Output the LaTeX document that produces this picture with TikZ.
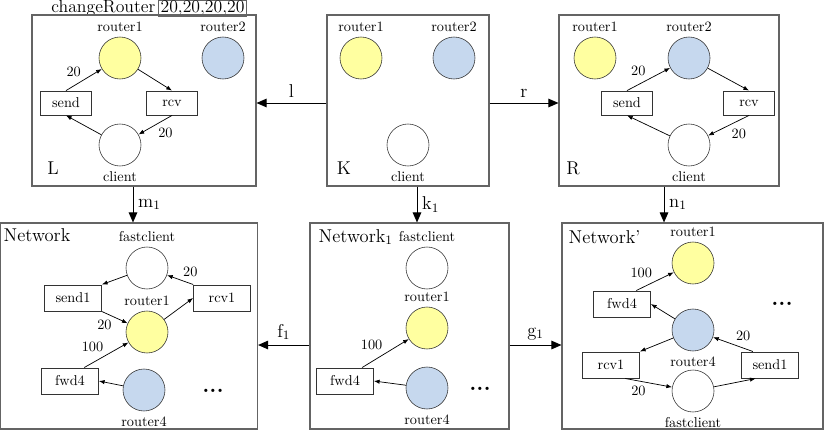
\documentclass[tikz,border=0pt]{standalone}
\definecolor{ryellow}{RGB}{255,255,160}
\definecolor{rblue}{RGB}{198,216,238}
\definecolor{panelgray}{RGB}{100,100,100}
\usepackage{tikz}
\usetikzlibrary{arrows.meta,positioning,calc}

\begin{document}
\begin{tikzpicture}[x=0.7pt,y=-0.7pt,
  panel/.style={draw=panelgray,line width=0.8pt,inner sep=0pt,minimum height=119.7pt},
  place/.style={circle,draw=black!80,minimum size=29.4pt,inner sep=0pt},
  yplace/.style={place,fill=ryellow},
  bplace/.style={place,fill=rblue},
  trans/.style={draw=black!80,minimum width=36pt,minimum height=17pt,inner sep=1pt},
  ntrans/.style={trans,minimum width=40pt,minimum height=18.5pt},
  arc/.style={-{Latex[length=4pt,width=3pt]},line width=0.5pt},
  morph/.style={-{Triangle[length=7pt,width=6pt]},line width=0.6pt},
  bigfont/.style={font=\fontsize{13}{15.6}\selectfont},
  tag/.style={bigfont,inner sep=1pt},
  more/.style={font=\fontsize{16}{19}\selectfont\bfseries,inner sep=0pt}]
\useasboundingbox (0,0) rectangle (827,436);

% rule name
\node[tag,font=\fontsize{12.4}{15}\selectfont,anchor=base east] (opname) at (157,12.8) {changeRouter};
\node[tag,font=\fontsize{12.4}{15}\selectfont,draw=panelgray,line width=0.6pt,anchor=base west,inner ysep=0.3pt,inner xsep=1.5pt] (oppar) at (158,12.8) {20,20,20,20};

% panels
\node[panel,minimum width=156.8pt] (L) at (144,100.5) {};
\node[panel,minimum width=113.4pt] (K) at (408,100.5) {};
\node[panel,minimum width=154pt] (R) at (669,100.5) {};
\node[panel,minimum width=179.9pt,minimum height=144.2pt] (N) at (129,326) {};
\node[panel,minimum width=139.3pt,minimum height=144.2pt] (N1) at (409.5,326) {};
\node[panel,minimum width=182.7pt,minimum height=144.2pt] (NP) at (692.5,326) {};
\node[tag] (Ltag) at (53,168) {L};
\node[tag] (Ktag) at (344,168) {K};
\node[tag] (Rtag) at (573,168) {R};
\node[tag,anchor=west] (Ntag) at (2,235) {Network};
\node[tag,anchor=west] (N1tag) at (317,237) {Network$_1$};
\node[tag,anchor=west] (NPtag) at (567,237) {Network'};

% L
\node[yplace,label=above:router1] (Lr1) at (120,58) {};
\node[bplace,label=above:router2] (Lr2) at (223,58) {};
\node[trans] (Lsend) at (66,103) {send};
\node[trans] (Lrcv) at (172,103) {rcv};
\node[place,label=below:client] (Lcl) at (120,145) {};
\draw[arc] (Lsend.north) -- node[above left=-2pt]{20} (Lr1);
\draw[arc] (Lr1) -- (Lrcv.north);
\draw[arc] (Lrcv.south) -- node[below right=-2pt]{20} (Lcl);
\draw[arc] (Lcl) -- (Lsend.south);

% K
\node[yplace,label=above:router1] (Kr1) at (361,58) {};
\node[bplace,label=above:router2] (Kr2) at (454,58) {};
\node[place,label=below:client] (Kcl) at (408,145) {};

% R
\node[yplace,label=above:router1] (Rr1) at (595,58) {};
\node[bplace,label=above:router2] (Rr2) at (689,58) {};
\node[trans] (Rsend) at (627,103) {send};
\node[trans] (Rrcv) at (749,103) {rcv};
\node[place,label=below:client] (Rcl) at (689,145) {};
\draw[arc] (Rsend.north) -- node[above left=-2pt]{20} (Rr2);
\draw[arc] (Rr2) -- (Rrcv.north);
\draw[arc] (Rrcv.south) -- node[below right=-2pt]{20} (Rcl);
\draw[arc] (Rcl) -- (Rsend.south);

% Network
\node[place,label=above:fastclient] (Nfc) at (147,268) {};
\node[ntrans] (Nsend) at (73,298) {send1};
\node[ntrans] (Nrcv) at (222,298) {rcv1};
\node[yplace,label=above:router1] (Nr1) at (147,332) {};
\node[ntrans] (Nfwd) at (70,381) {fwd4};
\node[bplace,label=below:router4] (Nr4) at (144,390) {};
\node[more] (Ndots) at (213,391) {...};
\draw[arc] (Nfc) -- (Nsend.north east);
\draw[arc] (Nsend.south east) -- node[below left=-2pt]{20} (Nr1);
\draw[arc] (Nr1) -- (Nrcv.west);
\draw[arc] (Nrcv.north west) -- node[above right=-2pt]{20} (Nfc);
\draw[arc] ([xshift=10pt]Nfwd.north) -- node[above left=-2pt]{100} (Nr1);
\draw[arc] (Nr4) -- (Nfwd.east);

% Network_1
\node[place,label=above:fastclient] (N1fc) at (427,268) {};
\node[yplace,label=above:router1] (N1r1) at (427,328) {};
\node[ntrans] (N1fwd) at (345,381) {fwd4};
\node[bplace,label=below:router4] (N1r4) at (427,388) {};
\node[more] (N1dots) at (480,389) {...};
\draw[arc] ([xshift=12pt]N1fwd.north) -- node[above left=-2pt]{100} (N1r1);
\draw[arc] (N1r4) -- (N1fwd.east);

% Network'
\node[yplace,label=above:router1] (NPr1) at (693,263) {};
\node[ntrans] (NPfwd) at (622,304) {fwd4};
\node[more] (NPdots) at (782,304) {...};
\node[bplace,label=below:router4] (NPr4) at (693,330) {};
\node[ntrans] (NPrcv) at (611,365) {rcv1};
\node[ntrans] (NPsend) at (770,365) {send1};
\node[place,label=below:fastclient] (NPfc) at (693,391) {};
\draw[arc] ([xshift=10pt]NPfwd.north) -- node[above left=-2pt]{100} (NPr1);
\draw[arc] (NPr4) -- (NPfwd.east);
\draw[arc] (NPr4) -- (NPrcv.north east);
\draw[arc] ([xshift=10pt]NPrcv.south) -- node[below left=-2pt]{20} (NPfc);
\draw[arc] (NPfc) -- ([xshift=-10pt]NPsend.south);
\draw[arc] ([xshift=-12pt]NPsend.north) -- node[above right=-2pt]{20} (NPr4);

% morphisms
\draw[morph] ([yshift=-1.75pt]K.west) -- node[above,bigfont]{l} ([yshift=-1.75pt]L.east);
\draw[morph] ([yshift=-1.75pt]K.east) -- node[above,bigfont]{r} ([yshift=-1.75pt]R.west);
\draw[morph] ([xshift=-7.7pt]L.south) -- node[right,bigfont]{m$_1$} ([xshift=-7.7pt]L.south |- N.north);
\draw[morph] ([xshift=6.3pt]K.south) -- node[right,bigfont]{k$_1$} ([xshift=6.3pt]K.south |- N1.north);
\draw[morph] ([xshift=-3.5pt]R.south) -- node[right,bigfont]{n$_1$} ([xshift=-3.5pt]R.south |- NP.north);
\draw[morph] ([yshift=-13.3pt]N1.west) -- node[above,bigfont]{f$_1$} ([yshift=-13.3pt]N.east);
\draw[morph] ([yshift=-13.3pt]N1.east) -- node[above,bigfont]{g$_1$} ([yshift=-13.3pt]NP.west);
\end{tikzpicture}
\end{document}
